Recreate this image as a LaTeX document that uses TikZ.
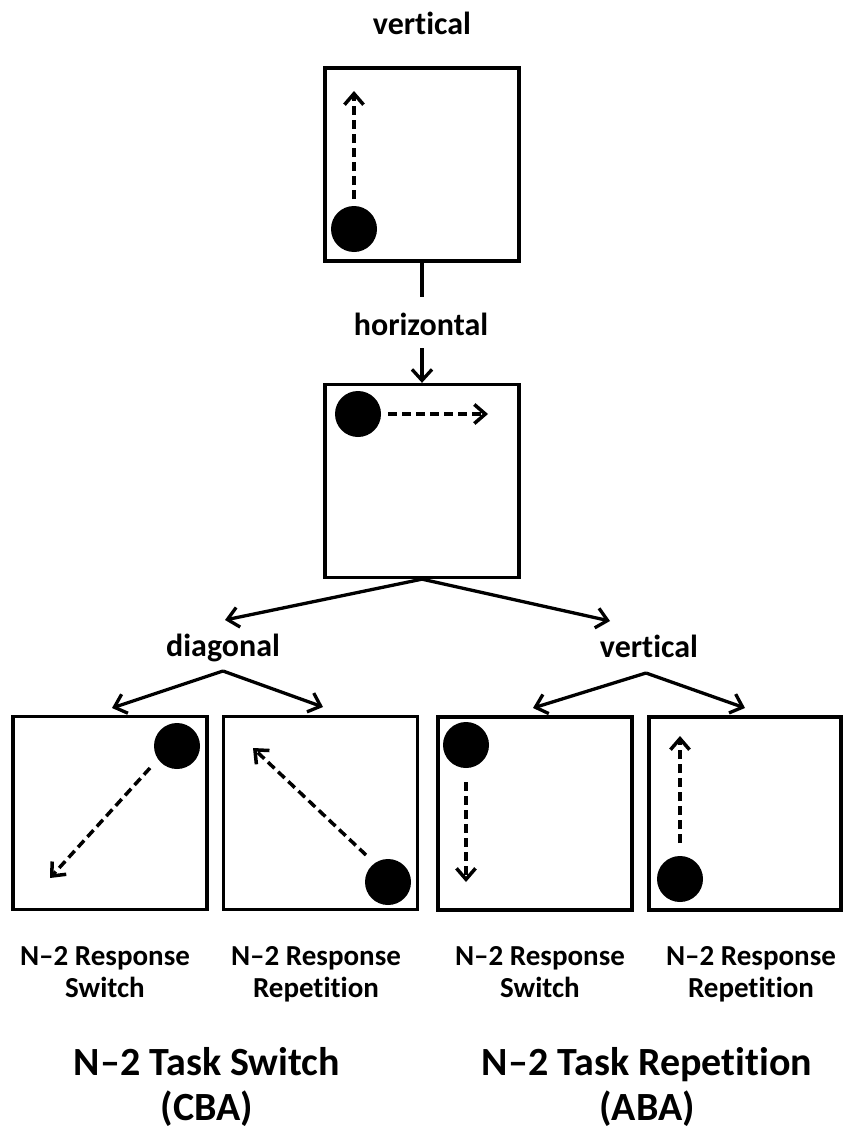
\documentclass[tikz,border=0pt]{standalone}
\usepackage{fontspec}
\setmainfont[Ligatures=NoCommon]{Carlito}
\usetikzlibrary{arrows.meta}
\begin{document}
\begin{tikzpicture}[x=1pt,y=-1pt,
  panel/.style={draw, line width=3.3pt, minimum width=194pt, minimum height=193pt, inner sep=0pt},
  ball/.style={circle, fill=black, minimum size=46pt, inner sep=0pt},
  lab/.style={font=\fontsize{32}{36}\selectfont\bfseries, anchor=base, inner sep=0pt},
  sub/.style={font=\fontsize{29}{33}\selectfont\bfseries, anchor=base, inner sep=0pt},
  ttl/.style={font=\fontsize{40}{48}\selectfont\bfseries, anchor=base, inner sep=0pt},
  conn/.style={line width=3.3pt, -{Straight Barb[length=11pt,width=20pt]}},
  plain/.style={line width=3.3pt},
  mv/.style={line width=3.5pt, dash pattern=on 9pt off 5pt, -{Straight Barb[length=11pt,width=19pt]}},
]
\useasboundingbox (0,0) rectangle (843,1129);

% panels
\node[panel] (T) at (422,164.5) {};
\node[panel] (H) at (422,481) {};
\node[panel] (P1) at (110,813) {};
\node[panel] (P2) at (320.5,813) {};
\node[panel] (P3) at (535,813.5) {};
\node[panel, minimum width=192pt] (P4) at (745,813.5) {};

% balls
\node[ball] (bT) at (354,229) {};
\node[ball] (bH) at (358,414) {};
\node[ball] (b1) at (177,746) {};
\node[ball] (b2) at (388,882) {};
\node[ball] (b3) at (466,745) {};
\node[ball] (b4) at (680,879) {};

% movement arrows
\coordinate (sT) at (354,199); \coordinate (eT) at (354,91);
\coordinate (sH) at (388,414); \coordinate (eH) at (488,414);
\coordinate (s1) at (150,768); \coordinate (e1) at (50,878);
\coordinate (s2) at (366,855); \coordinate (e2) at (253,748);
\coordinate (s3) at (466,782); \coordinate (e3) at (466,882);
\coordinate (s4) at (680,843); \coordinate (e4) at (680,736);
\draw[mv] (sT) -- (eT);
\draw[mv] (sH) -- (eH);
\draw[mv] (s1) -- (e1);
\draw[mv] (s2) -- (e2);
\draw[mv] (s3) -- (e3);
\draw[mv] (s4) -- (e4);

% labels
\node[lab] (lv) at (422,35) {vertical};
\node[lab] (lh) at (421,335) {horizontal};
\node[lab] (ld) at (223,656) {diagonal};
\node[lab] (lv2) at (649,657) {vertical};

% connectors
\coordinate (h1) at (422,297);
\coordinate (h2) at (422,348);
\draw[plain] (T.south) -- (h1);
\draw[conn] (h2) -- (H.north);

\coordinate (tD) at (225,620);
\coordinate (tV) at (610,621);
\draw[conn] (H.south) -- (tD);
\draw[conn] (H.south) -- (tV);

\coordinate (aD) at (223,671);
\coordinate (aV) at (646,673);
\coordinate (t1) at (112,708);
\coordinate (t2) at (323,707);
\coordinate (t3) at (533,708);
\coordinate (t4) at (745,708);
\draw[conn] (aD) -- (t1);
\draw[conn] (aD) -- (t2);
\draw[conn] (aV) -- (t3);
\draw[conn] (aV) -- (t4);

% bottom labels
\node[sub] (r1a) at (105,965) {N–2 Response};
\node[sub] (r1b) at (105,997) {Switch};
\node[sub] (r2a) at (316,965) {N–2 Response};
\node[sub] (r2b) at (316,997) {Repetition};
\node[sub] (r3a) at (540,965) {N–2 Response};
\node[sub] (r3b) at (540,997) {Switch};
\node[sub] (r4a) at (751,965) {N–2 Response};
\node[sub] (r4b) at (751,997) {Repetition};

% titles
\node[ttl] (t1a) at (207,1075) {N–2 Task Switch};
\node[ttl] (t1b) at (207,1120) {(CBA)};
\node[ttl] (t2a) at (647,1075) {N–2 Task Repetition};
\node[ttl] (t2b) at (647,1120) {(ABA)};
\end{tikzpicture}
\end{document}
